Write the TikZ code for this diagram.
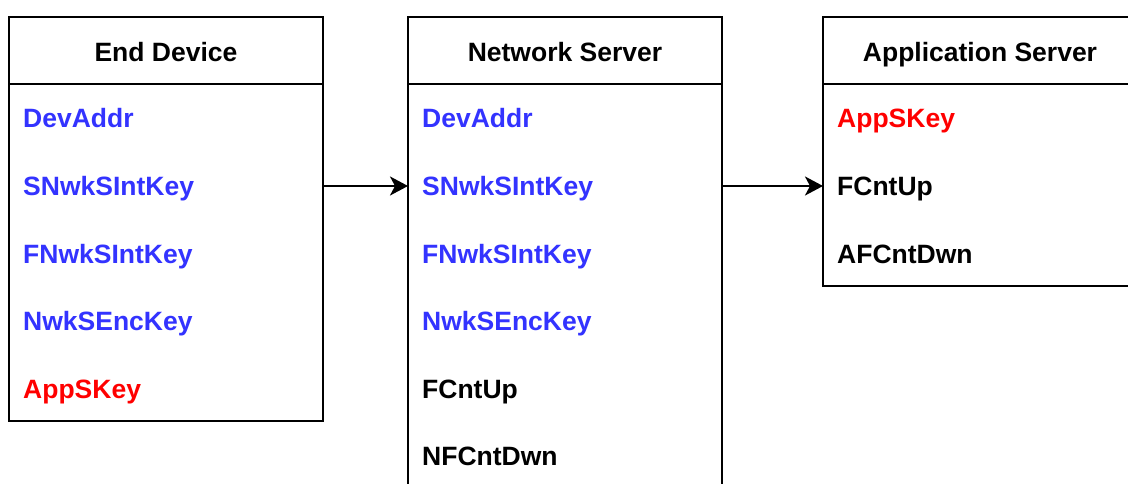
\documentclass[tikz,border=0pt]{standalone}
\usepackage{fontspec}
\setmainfont{Liberation Sans}
\usetikzlibrary{arrows.meta}
\definecolor{keyblue}{RGB}{51,51,255}
\definecolor{keyred}{RGB}{255,0,0}
\tikzset{
  panel/.style={draw=black, line width=2.4pt, fill=white},
  title/.style={font=\bfseries\fontsize{26.5}{31}\selectfont, anchor=base, inner sep=0pt},
  field/.style={font=\bfseries\fontsize{26.5}{31}\selectfont, anchor=base west, inner sep=0pt},
  nwk/.style={field, text=keyblue},
  app/.style={field, text=keyred},
  plain/.style={field, text=black},
  flow/.style={draw=black, line width=2.4pt, -{Stealth[length=18pt, width=19pt, inset=5pt]}}
}
\begin{document}
\begin{tikzpicture}[x=1pt, y=-1pt]
  \useasboundingbox (0,0) rectangle (1128,484);
  \clip (0,0) rectangle (1128,484);

  % End Device
  \draw[panel] (9,17) rectangle (323,421);
  \draw[line width=2.4pt] (9,84) -- (323,84);
  \node[title] (edt) at (166,62) {End Device};
  \coordinate (edE) at (323,186);
  \node[nwk] (ed1) at (23,128) {DevAddr};
  \node[nwk] (ed2) at (23,195.5) {SNwkSIntKey};
  \node[nwk] (ed3) at (23,263) {FNwkSIntKey};
  \node[nwk] (ed4) at (23,330.5) {NwkSEncKey};
  \node[app] (ed5) at (23,398) {AppSKey};

  % Network Server
  \draw[panel] (408,17) rectangle (722,500);
  \draw[line width=2.4pt] (408,84) -- (722,84);
  \node[title] (nst) at (565,62) {Network Server};
  \coordinate (nsW) at (408,186);
  \coordinate (nsE) at (722,186);
  \node[nwk] (ns1) at (422,128) {DevAddr};
  \node[nwk] (ns2) at (422,195.5) {SNwkSIntKey};
  \node[nwk] (ns3) at (422,263) {FNwkSIntKey};
  \node[nwk] (ns4) at (422,330.5) {NwkSEncKey};
  \node[plain] (ns5) at (422,398) {FCntUp};
  \node[plain] (ns6) at (422,465.5) {NFCntDwn};

  % Application Server
  \draw[panel] (823,17) rectangle (1140,286);
  \draw[line width=2.4pt] (823,84) -- (1140,84);
  \node[title] (ast) at (980,62) {Application Server};
  \coordinate (asW) at (823,186);
  \node[app] (as1) at (837,128) {AppSKey};
  \node[plain] (as2) at (837,195.5) {FCntUp};
  \node[plain] (as3) at (837,263) {AFCntDwn};

  % Key and counter hand-over
  \draw[flow] (edE) -- (nsW);
  \draw[flow] (nsE) -- (asW);
\end{tikzpicture}
\end{document}
